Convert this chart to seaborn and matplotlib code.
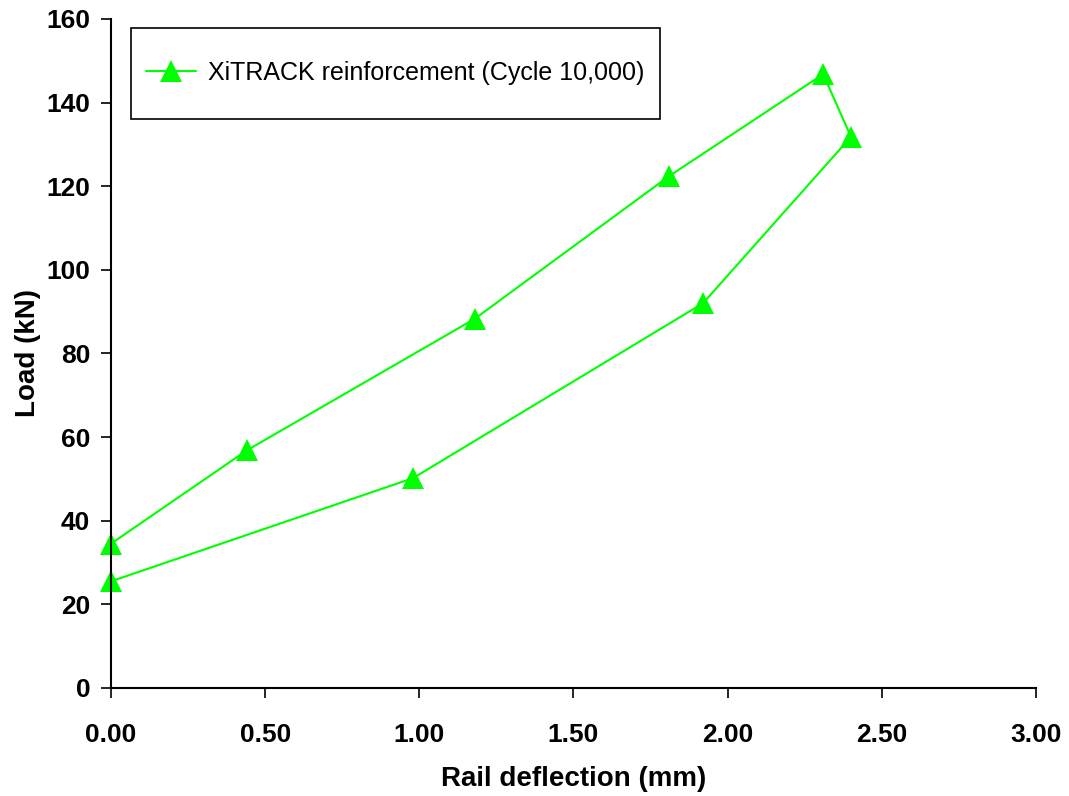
import numpy as np
import pandas as pd
import matplotlib
matplotlib.use('Agg')
import matplotlib.pyplot as plt
from matplotlib.lines import Line2D
import seaborn as sns

# Valores (laço carga/descarga)
deflexao = [0.00, 0.44, 1.18, 1.81, 2.31, 2.40, 1.92, 0.98, 0.00]
carga = [34.5, 56.8, 88.3, 122.4, 146.8, 131.8, 92.0, 50.2, 25.5]
serie = 'XiTRACK reinforcement (Cycle 10,000)'

x_ticks = [0.0, 0.5, 1.0, 1.5, 2.0, 2.5, 3.0]
y_ticks = [0, 20, 40, 60, 80, 100, 120, 140, 160]

df = pd.DataFrame({'Deflexao': deflexao, 'Carga': carga, 'Serie': serie})

sns.set_style('ticks')
plt.rcParams['font.family'] = ['Liberation Sans', 'DejaVu Sans']
plt.rcParams['text.color'] = 'black'
plt.rcParams['axes.labelcolor'] = 'black'

fig = plt.figure(figsize=(10.69, 7.96), dpi=100)
ax = fig.add_axes([0.1038, 0.1357, 0.8653, 0.8405])

sns.lineplot(
    data=df, x='Deflexao', y='Carga', hue='Serie',
    palette=['#00FF00'], sort=False, estimator=None,
    marker='^', markersize=15.5, markeredgewidth=0,
    linewidth=1.5, ax=ax, clip_on=False
)

ax.set_xlim(0, 3.0)
ax.set_ylim(0, 160)
ax.set_xticks(x_ticks)
ax.set_xticklabels([f'{v:.2f}' for v in x_ticks])
ax.set_yticks(y_ticks)
ax.set_yticklabels([str(v) for v in y_ticks])

for lado in ['top', 'right']:
    ax.spines[lado].set_visible(False)
for lado in ['left', 'bottom']:
    ax.spines[lado].set_linewidth(1.5)
    ax.spines[lado].set_color('black')

ax.tick_params(axis='both', direction='out', length=7, width=1.2, colors='black')
ax.tick_params(axis='x', pad=18)
ax.tick_params(axis='y', pad=8)
for lbl in ax.get_xticklabels() + ax.get_yticklabels():
    lbl.set_fontsize(19)
    lbl.set_fontweight('bold')

ax.set_xlabel('Rail deflection (mm)', fontsize=20, fontweight='bold', labelpad=14)
ax.set_ylabel('Load (kN)', fontsize=20, fontweight='bold', labelpad=4)

leg = ax.legend(
    loc='upper left', bbox_to_anchor=(0.0216, 0.987),
    fontsize=18, frameon=True, fancybox=False,
    handlelength=2.0, handleheight=3.4, handletextpad=0.5,
    borderpad=0.6, borderaxespad=0
)
leg.get_frame().set_edgecolor('black')
leg.get_frame().set_linewidth(1.2)
leg.get_frame().set_alpha(1)

# baixar o símbolo da legenda para ficar alinhado com o texto
for ln in leg.findobj(Line2D):
    ln.set_ydata(np.asarray(ln.get_ydata(), dtype=float) - 7.0)

fig.savefig('out.png', dpi=100)
plt.close(fig)
